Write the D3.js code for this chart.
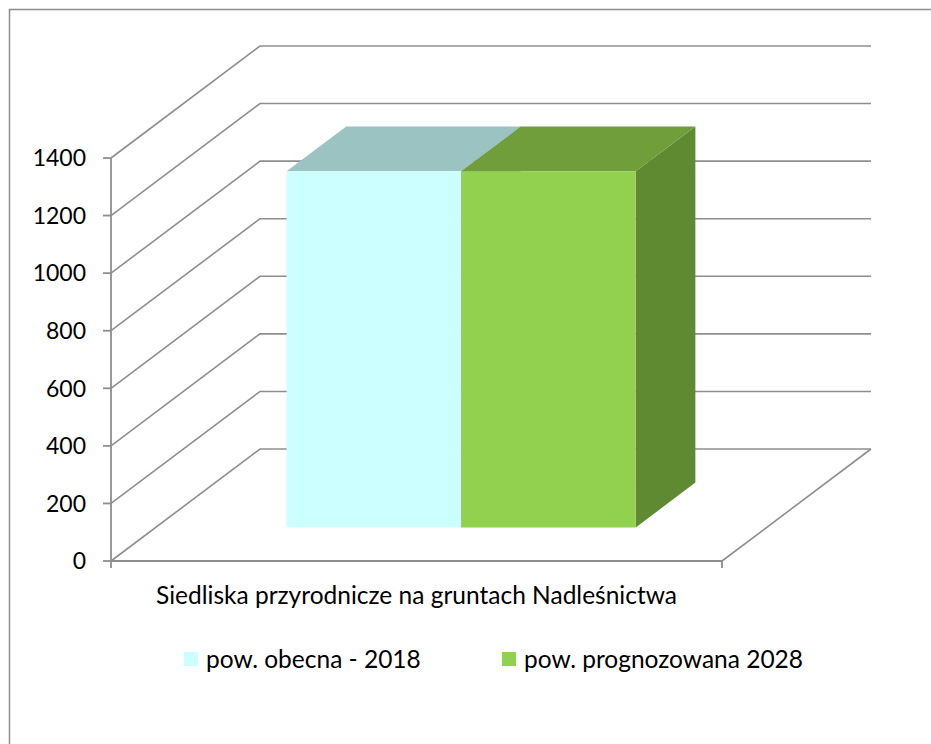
<!DOCTYPE html>
<html>
<head>
<meta charset="utf-8">
<script src="https://cdn.jsdelivr.net/npm/d3@7"></script>
<style>
  html, body { margin: 0; padding: 0; background: #fff; }
  svg { display: block; }
  text { font-family: Lato, "Open Sans", sans-serif; fill: #000; }
</style>
</head>
<body>
<svg id="chart" width="931" height="744"></svg>
<script>
// ---- data ----
const categories = ["Siedliska przyrodnicze na gruntach Nadleśnictwa"];
const seriesNames = ["pow. obecna - 2018", "pow. prognozowana 2028"];
const seriesValues = [[1237], [1237]];
const yTicks = [0, 200, 400, 600, 800, 1000, 1200, 1400];

// ---- styling ----
const faceColors = [
  { front: "#CCFFFF", top: "#9BC3C2", side: "#86AEAD" },
  { front: "#92D050", top: "#6F9E3B", side: "#5F8A31" }
];
const gridColor = "#8E8E8E";

const svg = d3.select("#chart");

// frame (only top/left visible in reference)
svg.append("rect").attr("x", 9.5).attr("y", 9.5).attr("width", 1000).attr("height", 1000)
  .attr("fill", "none").attr("stroke", "#8C8C8C").attr("stroke-width", 1.5);

// projection: front plane origin, depth vector
const x0 = 111, xW = 611, yBase = 561;
const depthV = [149, -112];
const y = d3.scaleLinear().domain([0, 1400]).range([yBase, yBase - 403]);
const xCatFull = d3.scaleBand().domain(categories).range([x0, x0 + xW]);
// bar group width 2b with gap 150% of bar width -> group = 2/3.5 of category
const groupW = xCatFull.bandwidth() * 2 / 3.5;
const xSer = d3.scaleBand().domain(d3.range(seriesNames.length)).range([0, groupW]);
const proj = (px, py, z) => [px + depthV[0] * z, py + depthV[1] * z];

const g = svg.append("g");
const line = d3.line();

// walls: gridlines on left wall and back wall
yTicks.forEach(v => {
  const p0 = [x0, y(v)];
  const p1 = proj(x0, y(v), 1);
  const p2 = proj(x0 + xW, y(v), 1);
  g.append("path").attr("d", line([p0, p1, p2]))
    .attr("fill", "none").attr("stroke", gridColor).attr("stroke-width", 1.6);
});
// floor front-right edge
g.append("path").attr("d", line([[x0 + xW, y(0)], proj(x0 + xW, y(0), 1)]))
  .attr("fill", "none").attr("stroke", gridColor).attr("stroke-width", 1.6);

// axes
g.append("path").attr("d", line([[x0, y(1400)], [x0, y(0)], [x0 + xW, y(0)]]))
  .attr("fill", "none").attr("stroke", gridColor).attr("stroke-width", 1.8);
yTicks.forEach(v => {
  g.append("line").attr("x1", x0 - 8).attr("x2", x0).attr("y1", y(v)).attr("y2", y(v))
    .attr("stroke", gridColor).attr("stroke-width", 1.8);
  g.append("text").attr("x", 86).attr("y", y(v)).attr("dy", "0.36em")
    .attr("text-anchor", "end").attr("font-size", 23).text(v);
});
[x0, x0 + xW].forEach(xx => {
  g.append("line").attr("x1", xx).attr("x2", xx).attr("y1", y(0)).attr("y2", y(0) + 7)
    .attr("stroke", gridColor).attr("stroke-width", 1.8);
});

// bars
const zF = 0.3, zB = 0.7;
const gStart = xCatFull(categories[0]) + (xCatFull.bandwidth() - groupW) / 2;
seriesNames.forEach((s, i) => {
  const v = seriesValues[i][0];
  const xl = gStart + xSer(i), xr = xl + xSer.bandwidth();
  const yt = y(v), yb = y(0);
  const c = faceColors[i];
  const fbl = proj(xl, yb, zF), fbr = proj(xr, yb, zF), ftl = proj(xl, yt, zF), ftr = proj(xr, yt, zF);
  const btl = proj(xl, yt, zB), btr = proj(xr, yt, zB), bbr = proj(xr, yb, zB);
  g.append("path").attr("d", line([fbr, ftr, btr, bbr]) + "Z").attr("fill", c.side);
  g.append("path").attr("d", line([ftl, ftr, btr, btl]) + "Z").attr("fill", c.top);
  g.append("path").attr("d", line([ftl, ftr, fbr, fbl]) + "Z").attr("fill", c.front);
});

// category label
svg.append("text").attr("x", x0 + xW / 2).attr("y", 604).attr("text-anchor", "middle")
  .attr("font-size", 24.5).text(categories[0]);

// legend
const legendX = [184, 502];
seriesNames.forEach((s, i) => {
  svg.append("rect").attr("x", legendX[i]).attr("y", 652).attr("width", 14).attr("height", 14)
    .attr("fill", faceColors[i].front);
  svg.append("text").attr("x", legendX[i] + 22).attr("y", 668).attr("font-size", 24.5).text(s);
});
</script>
</body>
</html>
